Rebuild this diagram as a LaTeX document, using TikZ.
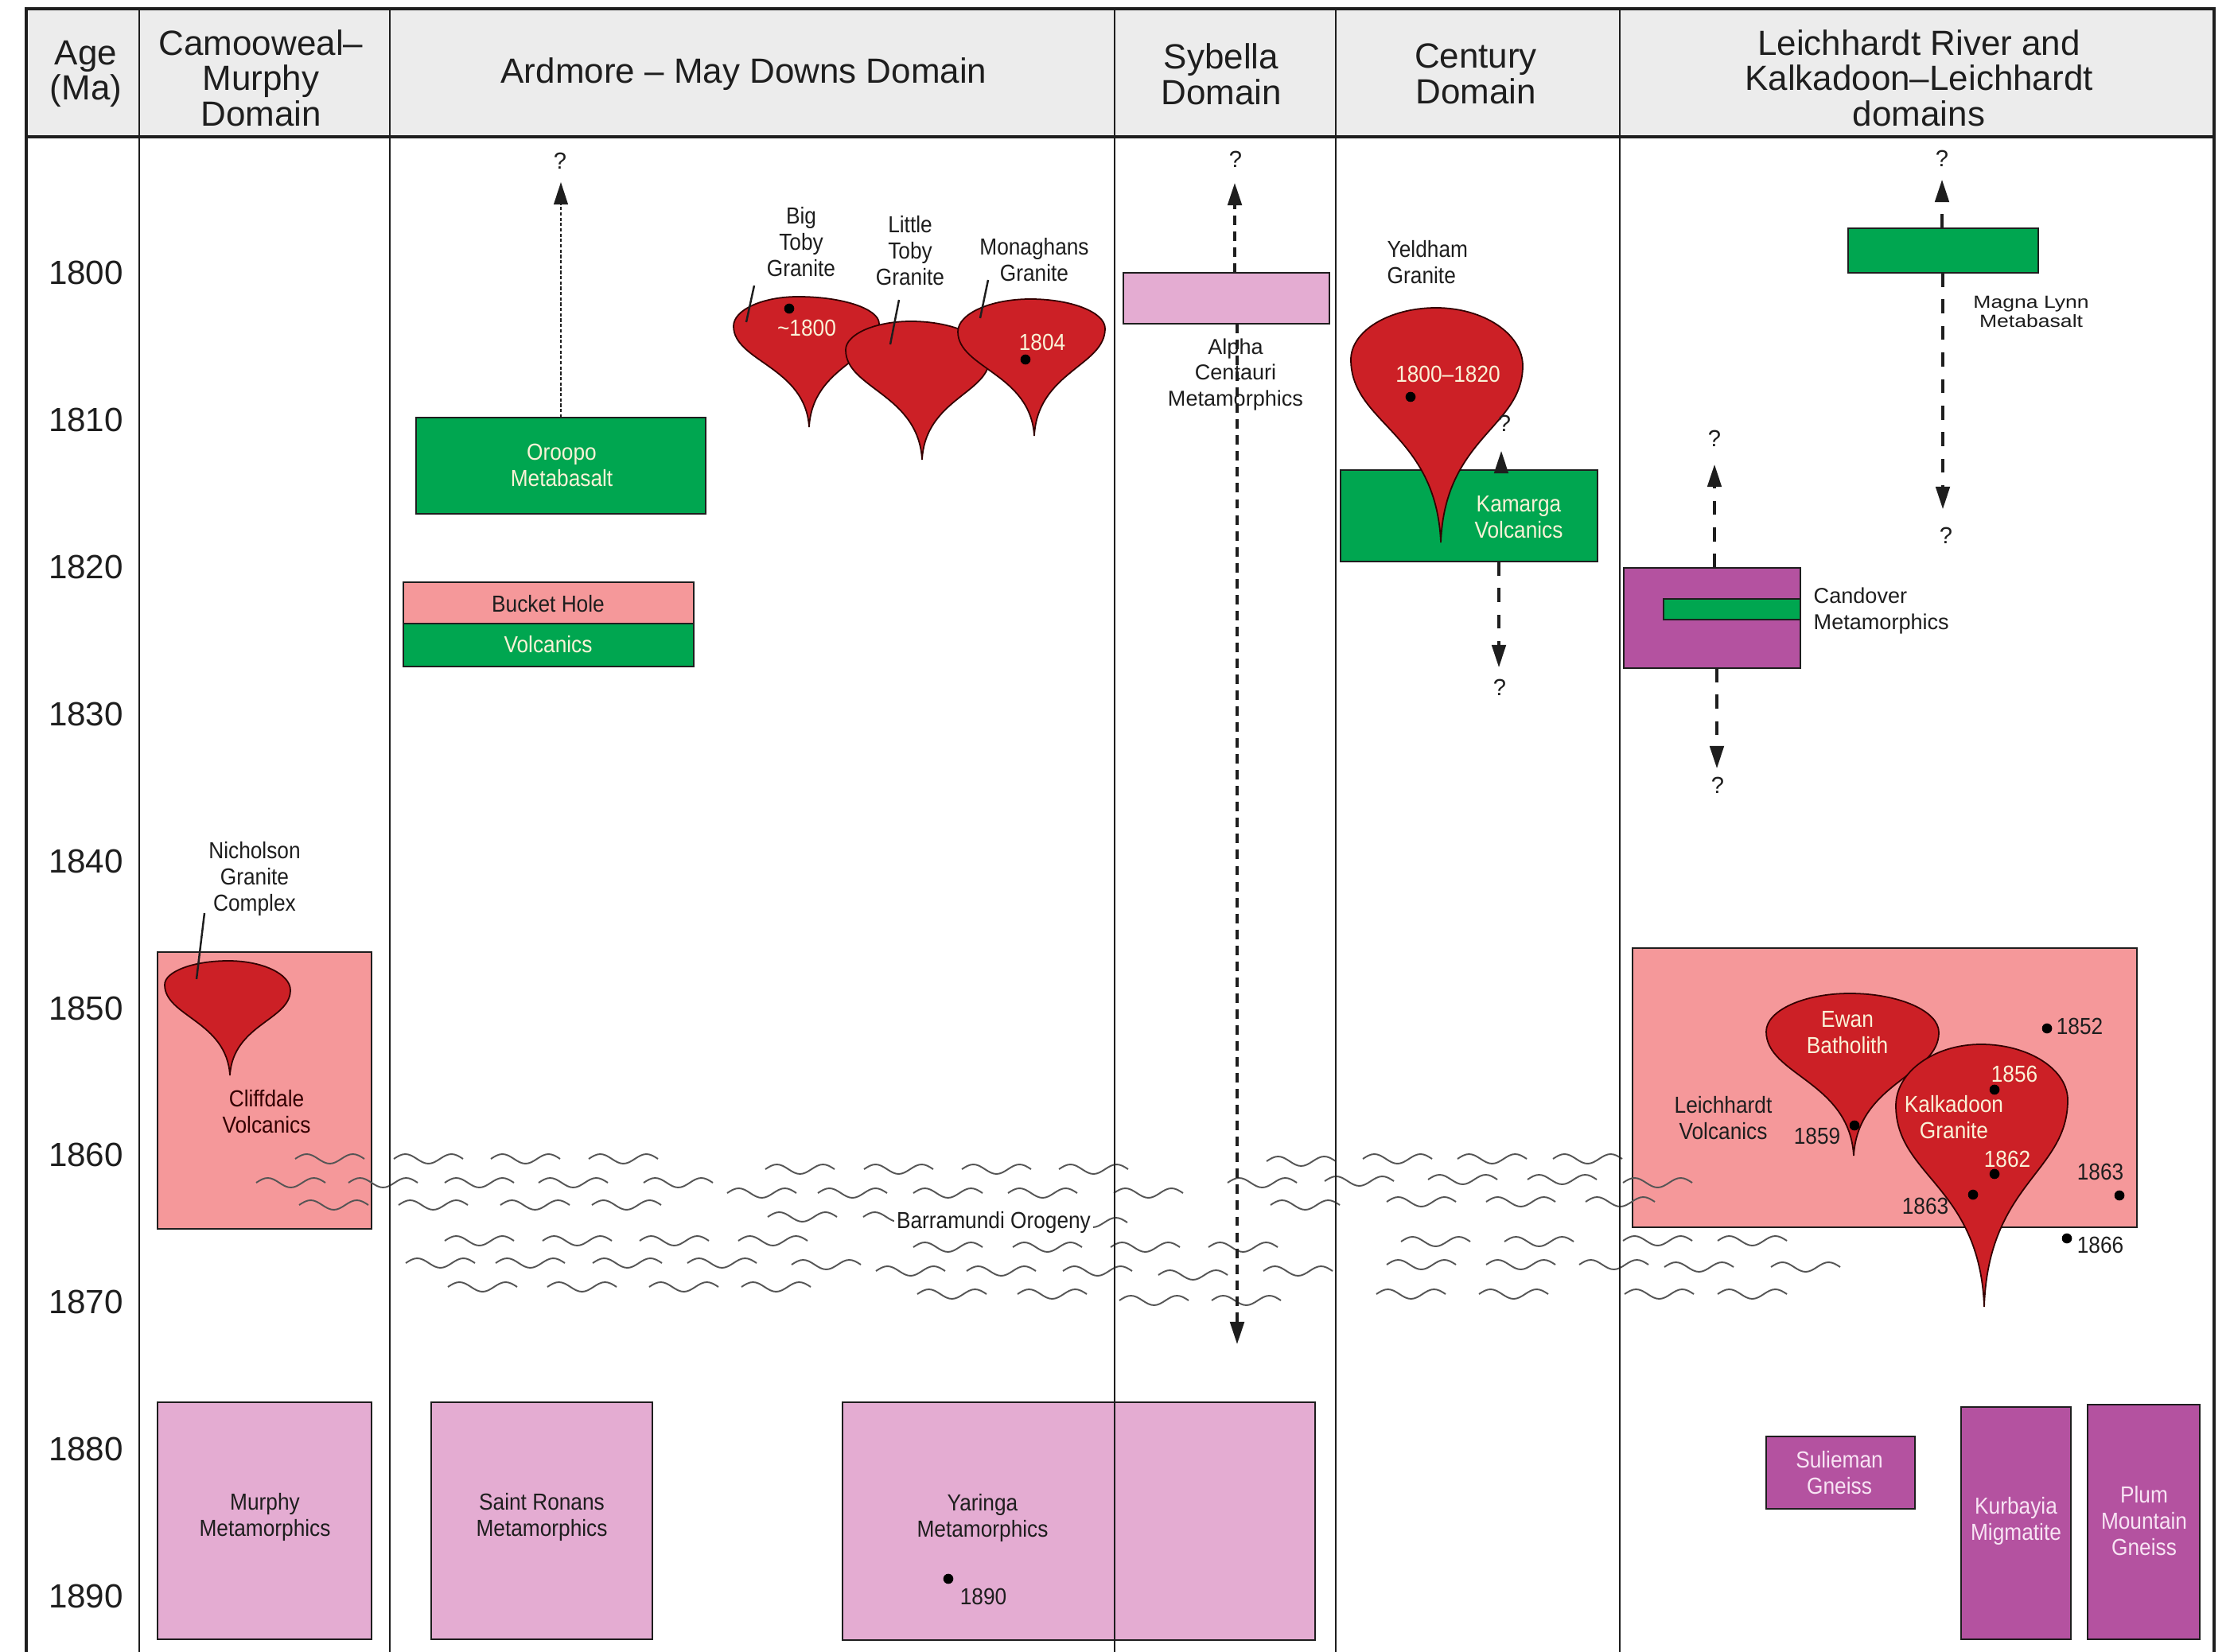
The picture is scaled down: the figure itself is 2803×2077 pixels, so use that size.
\documentclass[tikz,border=0pt]{standalone}
\usepackage{fontspec}
\setmainfont{Liberation Sans}
\newfontfamily\lblfont[FakeStretch=0.9]{Liberation Sans}
\newfontfamily\widefont[FakeStretch=1.2]{Liberation Sans}
\usetikzlibrary{arrows.meta}

\definecolor{grn}{RGB}{0,166,80}
\definecolor{salmon}{RGB}{245,152,154}
\definecolor{palepink}{RGB}{228,172,210}
\definecolor{mauve}{RGB}{180,82,160}
\definecolor{granred}{RGB}{204,32,38}
\definecolor{cream}{RGB}{250,242,215}
\definecolor{pinkwhite}{RGB}{248,228,244}
\definecolor{hdrgrey}{RGB}{236,236,236}
\definecolor{ink}{RGB}{30,30,30}
\definecolor{wavec}{RGB}{85,85,85}

% rectangle node given by its corners (pixel units)
\newcommand\unitbox[6]{%
  \pgfmathsetmacro\ubw{(#5-#3)/100}%
  \pgfmathsetmacro\ubh{(#6-#4)/100}%
  \node[unit,#2,minimum width=\ubw cm,minimum height=\ubh cm] (#1) at ({(#3+#5)/2},{(#4+#6)/2}) {};}

% granite "balloon": left, top, right points of the bulb, then the tip
\def\gka{0.35}\def\gkb{0.4}
\newcommand\granite[8]{%
  \pgfmathsetmacro\gLTy{#2-0.55*(#2-#4)}%
  \pgfmathsetmacro\gLTx{#3-0.55*(#3-#1)}%
  \pgfmathsetmacro\gTRx{#3+0.55*(#5-#3)}%
  \pgfmathsetmacro\gRTy{#6-0.55*(#6-#4)}%
  \pgfmathsetmacro\gRa{#6+\gka*(#8-#6)}%
  \pgfmathsetmacro\gRbx{#5+0.95*(#7-#5)}%
  \pgfmathsetmacro\gRby{#6+\gkb*(#8-#6)}%
  \pgfmathsetmacro\gLa{#2+\gka*(#8-#2)}%
  \pgfmathsetmacro\gLbx{#1+0.95*(#7-#1)}%
  \pgfmathsetmacro\gLby{#2+\gkb*(#8-#2)}%
  \draw[granite] (#7,#8) .. controls (\gLbx,\gLby) and (#1,\gLa) .. (#1,#2)
    .. controls (#1,\gLTy) and (\gLTx,#4) .. (#3,#4)
    .. controls (\gTRx,#4) and (#5,\gRTy) .. (#5,#6)
    .. controls (#5,\gRa) and (\gRbx,\gRby) .. (#7,#8) -- cycle;}

% one unconformity squiggle
\newcommand\wv[2]{\draw[wave] (#1,#2) sin ++(14.5,-6) cos ++(14.5,6) sin ++(14.5,6)
  cos ++(14.5,-6) sin ++(14.5,-6) cos ++(14.5,6);}

\tikzset{
  hdr/.style={font=\fontsize{12.5}{12.7}\selectfont, align=center, inner sep=0, text=ink},
  agelbl/.style={font=\fontsize{12}{13}\selectfont, inner sep=0, text=ink},
  lbl/.style={font=\lblfont\fontsize{8.3}{9.4}\selectfont, align=center, inner sep=0, text=ink},
  lblw/.style={font=\fontsize{7.7}{9.3}\selectfont, align=center, inner sep=0, text=ink},
  tinylbl/.style={font=\widefont\fontsize{6.3}{6.6}\selectfont, align=center, inner sep=0, text=ink},
  qm/.style={font=\fontsize{8.3}{9}\selectfont, inner sep=0, text=ink},
  unit/.style={draw=ink, line width=0.6pt, inner sep=0, outer sep=0},
  granite/.style={fill=granred, draw=black!80!red, line width=0.5pt},
  wave/.style={draw=wavec, line width=0.55pt},
  rule/.style={draw=ink, line width=0.8pt},
  frame/.style={draw=ink, line width=1.2pt},
  leader/.style={draw=ink, line width=0.7pt},
  age dot/.style={fill=black},
  tipT/.style={-{Triangle[length=8pt,width=5pt]}},
  ardarr/.style={tipT, draw=ink, line width=0.7pt, dash pattern=on 1.2pt off 0.7pt},
  sybarr/.style={tipT, draw=ink, line width=1pt, dash pattern=on 3.4pt off 2.3pt},
  qarr/.style={tipT, draw=ink, line width=0.9pt, dash pattern=on 5pt off 4.5pt},
}

\begin{document}
\begin{tikzpicture}[x=0.01cm, y=-0.01cm]
\useasboundingbox (0,0) rectangle (2803,2077);
\fill[white] (0,0) rectangle (2803,2077);

% header band
\fill[hdrgrey] (33,11) rectangle (2783,172);
\node[hdr] (hAge) at (108,93) {Age\\(Ma)};
\node[hdr] (hCam) at (328,98) {Camooweal–\\Murphy\\Domain};
\node[hdr] (hArd) at (935,93) {Ardmore – May Downs Domain};
\node[hdr] (hSyb) at (1535,93) {Sybella\\Domain};
\node[hdr] (hCen) at (1855,93) {Century\\Domain};
\node[hdr] (hLei) at (2412,98) {Leichhardt River and\\Kalkadoon–Leichhardt\\domains};

% age scale
\foreach \a in {1800,1810,...,1890}
  \node[agelbl] (age\a) at (108,{343+18.49*(\a-1800)}) {\a};

% ---------- units (boxes) ----------
\unitbox{cliff}{fill=salmon}{198}{1197}{467}{1545}
\unitbox{murphy}{fill=palepink}{198}{1763}{467}{2061}
\unitbox{ronans}{fill=palepink}{542}{1763}{820}{2061}
\unitbox{yaringa}{fill=palepink}{1059}{1763}{1653}{2062}
\unitbox{oroopo}{fill=grn}{523}{525}{887}{646}
\unitbox{bucket}{fill=salmon}{507}{732}{872}{784}
\unitbox{bucketv}{fill=grn}{507}{784}{872}{838}
\unitbox{alpha}{fill=palepink}{1412}{343}{1671}{407}
\unitbox{kamarga}{fill=grn}{1685}{591}{2008}{706}
\unitbox{magna}{fill=grn}{2323}{287}{2562}{343}
\unitbox{candover}{fill=mauve}{2041}{714}{2263}{840}
\unitbox{candbar}{fill=grn}{2091}{753}{2263}{779}
\unitbox{leivolc}{fill=salmon}{2052}{1192}{2686}{1543}
\unitbox{sulieman}{fill=mauve}{2220}{1806}{2407}{1897}
\unitbox{kurbayia}{fill=mauve}{2465}{1769}{2603}{2061}
\unitbox{plum}{fill=mauve}{2624}{1766}{2765}{2061}

% ---------- unconformity squiggles ----------
\foreach \p/\q in {371/1457,495/1457,617/1457,740/1457,
  962/1470,1086/1470,1209/1470,1331/1470,
  322/1487,438/1487,559/1487,677/1487,809/1487,
  914/1500,1028/1500,1148/1500,1267/1500,1400/1500,
  376/1515,501/1515,629/1515,744/1515,
  965/1530,1085/1530,1330/1537,
  559/1560,682/1560,804/1560,928/1560,
  1148/1568,1273/1568,1396/1568,1519/1568,
  510/1588,623/1588,745/1588,864/1588,995/1590,1101/1598,1215/1598,1336/1598,1456/1603,1588/1598,
  563/1618,688/1618,816/1618,932/1618,1153/1627,1279/1627,1407/1635,1523/1635,
  1592/1460,1713/1457,1832/1457,1952/1457,
  1543/1487,1665/1485,1795/1483,1920/1483,2040/1487,
  1597/1515,1743/1511,1868/1511,1993/1511,
  1761/1561,1891/1561,2040/1560,2159/1560,
  1743/1590,1868/1590,1985/1590,2092/1593,2226/1593,
  1730/1627,1859/1627,2042/1627,2159/1627}
  {\wv{\p}{\q}}
\node[lbl, fill=white, inner sep=1pt] (barr) at (1249,1537) {Barramundi Orogeny};

% ---------- granites ----------
\granite{207}{1238}{287}{1208}{365}{1245}{289}{1352}
\granite{922}{410}{1003}{373}{1105}{407}{1017}{537}
\granite{1063}{440}{1145}{404}{1244}{450}{1159}{578}
\granite{1204}{417}{1295}{376}{1389}{413}{1300}{548}
\granite{1698}{452}{1805}{387}{1914}{460}{1811}{682}
\granite{2220}{1297}{2325}{1249}{2437}{1298}{2330}{1453}
\granite{2383}{1390}{2490}{1313}{2599}{1383}{2494}{1643}

% ---------- table rules ----------
\foreach \c in {175,490,1401,1679,2036}
  \draw[rule] (\c,11) -- (\c,2077);
\draw[frame] (33,2077) -- (33,11) -- (2783,11) -- (2783,2077);
\draw[frame] (33,172) -- (2783,172);

% ---------- labels ----------
\node[lbl, text=black!80!red] (tCliff) at (335,1398) {Cliffdale\\Volcanics};
\node[lbl] (tNich) at (320,1105) {Nicholson\\Granite\\Complex};
\node[lbl] (tMurphy) at (333,1907) {Murphy\\Metamorphics};
\node[lbl] (tRonans) at (681,1907) {Saint Ronans\\Metamorphics};
\node[lbl] (tYar) at (1235,1908) {Yaringa\\Metamorphics};
\node[lbl] (t1890) at (1236,2007) {1890};
\node[lbl, text=cream] (tOroopo) at (706,585) {Oroopo\\Metabasalt};
\node[lbl] (tBucket) at (689,759) {Bucket Hole};
\node[lbl, text=cream] (tVolc) at (689,810) {Volcanics};
\node[lbl] (tBig) at (1007,304) {Big\\Toby\\Granite};
\node[lbl] (tLittle) at (1144,315) {Little\\Toby\\Granite};
\node[lbl] (tMon) at (1300,327) {Monaghans\\Granite};
\node[lbl, text=cream] (t1800) at (1014,412) {\textasciitilde1800};
\node[lbl, text=cream] (t1804) at (1310,430) {1804};
\node[lblw] (tAlpha) at (1553,471) {Alpha\\Centauri\\Metamorphics};
\node[lbl, align=left, anchor=west] (tYeld) at (1743,330) {Yeldham\\Granite};
\node[lbl, text=cream] (tYelAge) at (1820,470) {1800–1820};
\node[lbl, text=cream] (tKam) at (1909,650) {Kamarga\\Volcanics};
\node[tinylbl] (tMagna) at (2553,392) {Magna Lynn\\Metabasalt};
\node[lblw, align=left, anchor=west] (tCand) at (2279,768) {Candover\\Metamorphics};
\node[lbl] (tLV) at (2166,1406) {Leichhardt\\Volcanics};
\node[lbl, text=cream] (tEwan) at (2322,1298) {Ewan\\Batholith};
\node[lbl, text=cream] (tKalk) at (2456,1405) {Kalkadoon\\Granite};
\node[lbl] (t1859) at (2284,1428) {1859};
\node[lbl, text=cream] (t1856) at (2532,1350) {1856};
\node[lbl, text=cream] (t1862) at (2523,1457) {1862};
\node[lbl] (t1863a) at (2420,1516) {1863};
\node[lbl] (t1852) at (2614,1290) {1852};
\node[lbl] (t1863b) at (2640,1473) {1863};
\node[lbl] (t1866) at (2640,1565) {1866};
\node[lbl, text=pinkwhite] (tSul) at (2312,1852) {Sulieman\\Gneiss};
\node[lbl, text=pinkwhite] (tKur) at (2534,1912) {Kurbayia\\Migmatite};
\node[lbl, text=pinkwhite] (tPlum) at (2695,1912) {Plum\\Mountain\\Gneiss};

% sample points
\foreach \p/\q in {992/388,1289/452,1773/499,2331/1415,2507/1370,2507/1476,
  2480/1502,2573/1293,2664/1503,2598/1557,1192/1985}
  \fill[age dot] (\p,\q) circle[radius=1.8pt];

% leader lines
\coordinate (nichA) at (257,1148); \coordinate (nichB) at (247,1231);
\coordinate (bigA) at (948,359);   \coordinate (bigB) at (938,405);
\coordinate (litA) at (1130,377);  \coordinate (litB) at (1119,433);
\coordinate (monA) at (1242,352);  \coordinate (monB) at (1232,400);
\draw[leader] (nichA) -- (nichB);
\draw[leader] (bigA) -- (bigB);
\draw[leader] (litA) -- (litB);
\draw[leader] (monA) -- (monB);

% age-uncertainty arrows
\coordinate (ardTip) at (705,229);
\coordinate (sybTop) at (1552,230);
\coordinate (sybBot) at (1555,1690);
\coordinate (cenTop) at (1887,567);
\coordinate (cenBot) at (1884,839);
\coordinate (mlTop) at (2441,226);
\coordinate (mlBot) at (2442,640);
\coordinate (cdTop) at (2155,584);
\coordinate (cdBot) at (2158,966);
\draw[ardarr] (oroopo.north) -- (ardTip);
\draw[sybarr] (alpha.north -| sybTop) -- (sybTop);
\draw[sybarr] (alpha.south -| sybBot) -- (sybBot);
\draw[qarr] (kamarga.north -| cenTop) -- (cenTop);
\draw[qarr] (kamarga.south -| cenBot) -- (cenBot);
\draw[qarr] (magna.north -| mlTop) -- (mlTop);
\draw[qarr] (magna.south -| mlBot) -- (mlBot);
\draw[qarr] (candover.north -| cdTop) -- (cdTop);
\draw[qarr] (candover.south -| cdBot) -- (cdBot);

\node[qm] (q1) at (704,202) {?};
\node[qm] (q2) at (1553,200) {?};
\node[qm] (q3) at (1891,532) {?};
\node[qm] (q4) at (1885,864) {?};
\node[qm] (q5) at (2441,199) {?};
\node[qm] (q6) at (2446,673) {?};
\node[qm] (q7) at (2155,551) {?};
\node[qm] (q8) at (2159,987) {?};
\end{tikzpicture}
\end{document}
